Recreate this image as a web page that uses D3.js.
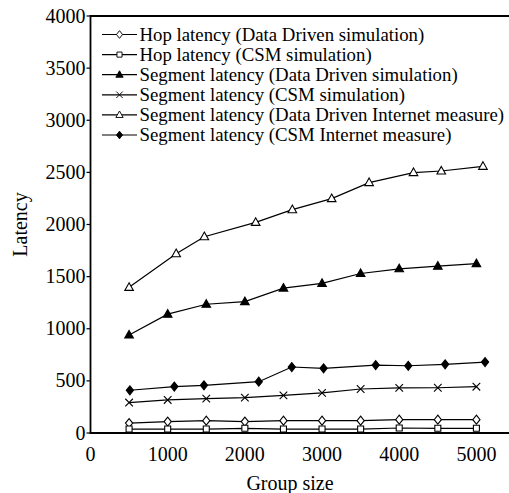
<!DOCTYPE html>
<html>
<head>
<meta charset="utf-8">
<script src="https://cdn.jsdelivr.net/npm/d3@7"></script>
<style>
	body { margin: 0; background: #fff; }
	svg { display: block; }
	text { font-family: "Liberation Serif", "Times New Roman", serif; fill: #000; }
</style>
</head>
<body>
<div id="chart"></div>
<script>
const w = 509;
const h = 493;

// group sizes: the simulations use round steps, the Internet measures do not
const simGroups = [500, 1000, 1500, 2000, 2500, 3000, 3500, 4000, 4500, 5000];
const ddNetGroups = [500, 1110, 1475, 2140, 2615, 3125, 3610, 4185, 4545, 5085];
const csmNetGroups = [510, 1086, 1470, 2180, 2608, 3020, 3695, 4117, 4595, 5112];

const hopDD = [95, 110, 118, 110, 118, 118, 118, 128, 128, 128];
const hopCSM = [38, 38, 38, 45, 38, 38, 38, 48, 45, 45];
const segDD = [940, 1140, 1235, 1260, 1390, 1435, 1530, 1575, 1600, 1625];
const segCSM = [292, 317, 330, 339, 361, 385, 422, 433, 434, 444];
const segDDNet = [1397, 1720, 1883, 2020, 2142, 2248, 2402, 2498, 2513, 2558];
const segCSMNet = [410, 445, 457, 492, 633, 620, 652, 645, 659, 680];

const xTicks = [0, 1000, 2000, 3000, 4000, 5000];
const yTicks = [0, 500, 1000, 1500, 2000, 2500, 3000, 3500, 4000];

const series = [
	{ name: 'Hop latency (Data Driven simulation)', xs: simGroups, ys: hopDD, mark: 'diamond', fill: '#fff' },
	{ name: 'Hop latency (CSM simulation)', xs: simGroups, ys: hopCSM, mark: 'square', fill: '#fff' },
	{ name: 'Segment latency (Data Driven simulation)', xs: simGroups, ys: segDD, mark: 'triangle', fill: '#000' },
	{ name: 'Segment latency (CSM simulation)', xs: simGroups, ys: segCSM, mark: 'cross', fill: 'none' },
	{ name: 'Segment latency (Data Driven Internet measure)', xs: ddNetGroups, ys: segDDNet, mark: 'triangle', fill: '#fff' },
	{ name: 'Segment latency (CSM Internet measure)', xs: csmNetGroups, ys: segCSMNet, mark: 'diamond', fill: '#000' }
];

const x = d3.scaleLinear().domain([0, 5500]).range([90.5, 515]);
const y = d3.scaleLinear().domain([0, 4000]).range([433, 16]);

// marker shapes, centred on 0,0
function markPath(kind) {
	if (kind === 'diamond') return 'M0,-4.5L3.6,0L0,4.5L-3.6,0Z';
	if (kind === 'square') return 'M-3,-3H3V3H-3Z';
	if (kind === 'triangle') return 'M0,-4.6L4.3,3L-4.3,3Z';
	return 'M-3.8,-3.8L3.8,3.8M-3.8,3.8L3.8,-3.8';
}

const svg = d3
	.select('#chart')
	.append('svg')
	.attr('width', w)
	.attr('height', h);

// frame: left axis, bottom axis, top border
svg.append('path')
	.attr('d', `M${w},${y(4000)}H${x(0)}V${y(0)}H${w}`)
	.attr('fill', 'none')
	.attr('stroke', '#000')
	.attr('stroke-width', 1.8);

const yAxis = svg.append('g');
yAxis.selectAll('line')
	.data(yTicks)
	.enter()
	.append('line')
	.attr('x1', x(0) - 4)
	.attr('x2', x(0))
	.attr('y1', d => y(d))
	.attr('y2', d => y(d))
	.attr('stroke', '#000')
	.attr('stroke-width', 1.2);
yAxis.selectAll('text')
	.data(yTicks)
	.enter()
	.append('text')
	.attr('x', x(0) - 5)
	.attr('y', d => y(d))
	.attr('dy', '0.33em')
	.attr('text-anchor', 'end')
	.style('font-size', '20px')
	.text(d => d);

svg.append('g')
	.selectAll('text')
	.data(xTicks)
	.enter()
	.append('text')
	.attr('x', d => x(d))
	.attr('y', 461)
	.attr('text-anchor', 'middle')
	.style('font-size', '20px')
	.text(d => d);

svg.append('text')
	.attr('x', 290)
	.attr('y', 490)
	.attr('text-anchor', 'middle')
	.style('font-size', '20px')
	.text('Group size');

svg.append('text')
	.attr('transform', `translate(27,${(y(0) + y(4000)) / 2}) rotate(-90)`)
	.attr('text-anchor', 'middle')
	.style('font-size', '20px')
	.text('Latency');

const line = d3.line().x(d => x(d[0])).y(d => y(d[1]));

series.forEach(s => {
	const pts = s.xs.map((g, i) => [g, s.ys[i]]);
	const g = svg.append('g');
	g.append('path')
		.datum(pts)
		.attr('d', line)
		.attr('fill', 'none')
		.attr('stroke', '#000')
		.attr('stroke-width', 1.2);
	g.selectAll('path.mark')
		.data(pts)
		.enter()
		.append('path')
		.attr('class', 'mark')
		.attr('transform', d => `translate(${x(d[0])},${y(d[1])})`)
		.attr('d', markPath(s.mark))
		.attr('fill', s.fill)
		.attr('stroke', '#000')
		.attr('stroke-width', 1.1);
});

// legend
const legend = svg.append('g');
const rowY = i => 34.5 + i * 20.1;
series.forEach((s, i) => {
	legend.append('line')
		.attr('x1', 102)
		.attr('x2', 137)
		.attr('y1', rowY(i))
		.attr('y2', rowY(i))
		.attr('stroke', '#000')
		.attr('stroke-width', 1.2);
	legend.append('path')
		.attr('transform', `translate(119.5,${rowY(i)}) scale(0.85)`)
		.attr('d', markPath(s.mark))
		.attr('fill', s.fill)
		.attr('stroke', '#000')
		.attr('stroke-width', 1.1);
	legend.append('text')
		.attr('x', 139.5)
		.attr('y', rowY(i))
		.attr('dy', '0.33em')
		.style('font-size', '18.8px')
		.text(s.name);
});
</script>
</body>
</html>
